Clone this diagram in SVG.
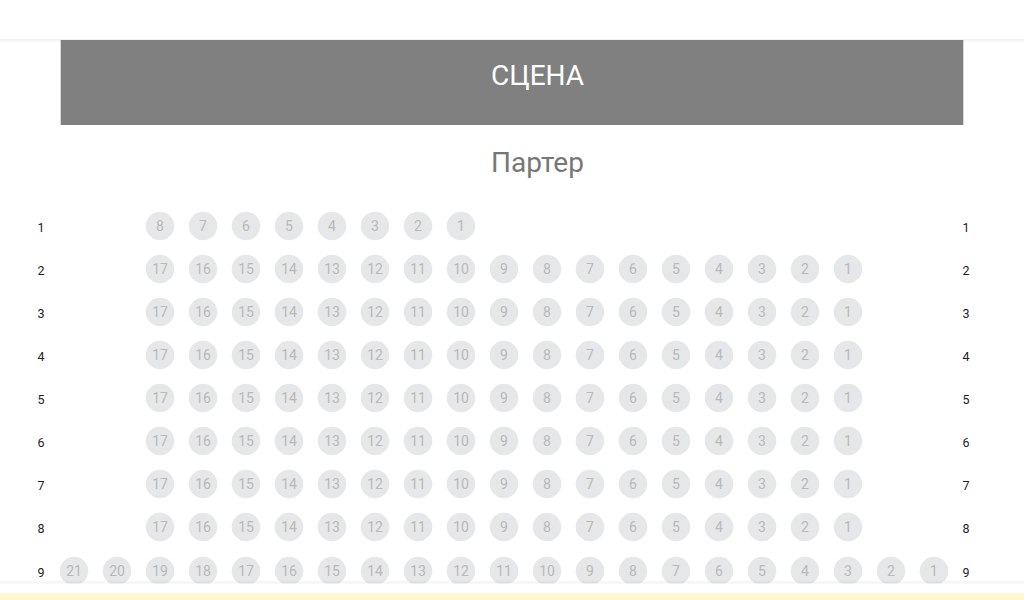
<svg xmlns="http://www.w3.org/2000/svg" width="1024" height="600" viewBox="0 0 1024 600">
<defs>
<style>
.seat circle{fill:#e6e7e8}
.seat text{font-family:Roboto,"Liberation Sans",sans-serif;font-size:14px;fill:#b9b9b9;text-anchor:middle;dominant-baseline:central}
.rl{font-family:Roboto,"Liberation Sans",sans-serif;font-size:12.5px;fill:#222;text-anchor:middle;dominant-baseline:central}
</style>
<linearGradient id="sh" x1="0" y1="0" x2="0" y2="1"><stop offset="0" stop-color="#000" stop-opacity="0.06"/><stop offset="1" stop-color="#000" stop-opacity="0"/></linearGradient>
<linearGradient id="sh2" x1="0" y1="1" x2="0" y2="0"><stop offset="0" stop-color="#000" stop-opacity="0.06"/><stop offset="1" stop-color="#000" stop-opacity="0"/></linearGradient>
</defs>
<rect width="1024" height="600" fill="#fff"/>
<g id="header"><rect x="0" y="0" width="1024" height="39" fill="#fff"/><rect x="0" y="39" width="1024" height="4" fill="url(#sh)"/></g>
<g id="stage"><rect x="60.7" y="40" width="902.6" height="85" fill="#808080"/><text x="537.5" y="84.5" font-family="Roboto,'Liberation Sans',sans-serif" font-size="28" fill="#fff" text-anchor="middle">СЦЕНА</text></g>
<g id="parter-title"><text x="537.5" y="171.5" font-family="Roboto,'Liberation Sans',sans-serif" font-size="28" fill="#777" text-anchor="middle">Партер</text></g>
<g id="row1">
<text class="rl" x="41" y="227">1</text><text class="rl" x="966" y="227">1</text>
<g class="seat"><circle cx="160" cy="226" r="14.3"/><text x="160" y="226">8</text></g>
<g class="seat"><circle cx="203" cy="226" r="14.3"/><text x="203" y="226">7</text></g>
<g class="seat"><circle cx="246" cy="226" r="14.3"/><text x="246" y="226">6</text></g>
<g class="seat"><circle cx="289" cy="226" r="14.3"/><text x="289" y="226">5</text></g>
<g class="seat"><circle cx="332" cy="226" r="14.3"/><text x="332" y="226">4</text></g>
<g class="seat"><circle cx="375" cy="226" r="14.3"/><text x="375" y="226">3</text></g>
<g class="seat"><circle cx="418" cy="226" r="14.3"/><text x="418" y="226">2</text></g>
<g class="seat"><circle cx="461" cy="226" r="14.3"/><text x="461" y="226">1</text></g>
</g>
<g id="row2">
<text class="rl" x="41" y="270">2</text><text class="rl" x="966" y="270">2</text>
<g class="seat"><circle cx="160" cy="269" r="14.3"/><text x="160" y="269">17</text></g>
<g class="seat"><circle cx="203" cy="269" r="14.3"/><text x="203" y="269">16</text></g>
<g class="seat"><circle cx="246" cy="269" r="14.3"/><text x="246" y="269">15</text></g>
<g class="seat"><circle cx="289" cy="269" r="14.3"/><text x="289" y="269">14</text></g>
<g class="seat"><circle cx="332" cy="269" r="14.3"/><text x="332" y="269">13</text></g>
<g class="seat"><circle cx="375" cy="269" r="14.3"/><text x="375" y="269">12</text></g>
<g class="seat"><circle cx="418" cy="269" r="14.3"/><text x="418" y="269">11</text></g>
<g class="seat"><circle cx="461" cy="269" r="14.3"/><text x="461" y="269">10</text></g>
<g class="seat"><circle cx="504" cy="269" r="14.3"/><text x="504" y="269">9</text></g>
<g class="seat"><circle cx="547" cy="269" r="14.3"/><text x="547" y="269">8</text></g>
<g class="seat"><circle cx="590" cy="269" r="14.3"/><text x="590" y="269">7</text></g>
<g class="seat"><circle cx="633" cy="269" r="14.3"/><text x="633" y="269">6</text></g>
<g class="seat"><circle cx="676" cy="269" r="14.3"/><text x="676" y="269">5</text></g>
<g class="seat"><circle cx="719" cy="269" r="14.3"/><text x="719" y="269">4</text></g>
<g class="seat"><circle cx="762" cy="269" r="14.3"/><text x="762" y="269">3</text></g>
<g class="seat"><circle cx="805" cy="269" r="14.3"/><text x="805" y="269">2</text></g>
<g class="seat"><circle cx="848" cy="269" r="14.3"/><text x="848" y="269">1</text></g>
</g>
<g id="row3">
<text class="rl" x="41" y="313">3</text><text class="rl" x="966" y="313">3</text>
<g class="seat"><circle cx="160" cy="312" r="14.3"/><text x="160" y="312">17</text></g>
<g class="seat"><circle cx="203" cy="312" r="14.3"/><text x="203" y="312">16</text></g>
<g class="seat"><circle cx="246" cy="312" r="14.3"/><text x="246" y="312">15</text></g>
<g class="seat"><circle cx="289" cy="312" r="14.3"/><text x="289" y="312">14</text></g>
<g class="seat"><circle cx="332" cy="312" r="14.3"/><text x="332" y="312">13</text></g>
<g class="seat"><circle cx="375" cy="312" r="14.3"/><text x="375" y="312">12</text></g>
<g class="seat"><circle cx="418" cy="312" r="14.3"/><text x="418" y="312">11</text></g>
<g class="seat"><circle cx="461" cy="312" r="14.3"/><text x="461" y="312">10</text></g>
<g class="seat"><circle cx="504" cy="312" r="14.3"/><text x="504" y="312">9</text></g>
<g class="seat"><circle cx="547" cy="312" r="14.3"/><text x="547" y="312">8</text></g>
<g class="seat"><circle cx="590" cy="312" r="14.3"/><text x="590" y="312">7</text></g>
<g class="seat"><circle cx="633" cy="312" r="14.3"/><text x="633" y="312">6</text></g>
<g class="seat"><circle cx="676" cy="312" r="14.3"/><text x="676" y="312">5</text></g>
<g class="seat"><circle cx="719" cy="312" r="14.3"/><text x="719" y="312">4</text></g>
<g class="seat"><circle cx="762" cy="312" r="14.3"/><text x="762" y="312">3</text></g>
<g class="seat"><circle cx="805" cy="312" r="14.3"/><text x="805" y="312">2</text></g>
<g class="seat"><circle cx="848" cy="312" r="14.3"/><text x="848" y="312">1</text></g>
</g>
<g id="row4">
<text class="rl" x="41" y="356">4</text><text class="rl" x="966" y="356">4</text>
<g class="seat"><circle cx="160" cy="355" r="14.3"/><text x="160" y="355">17</text></g>
<g class="seat"><circle cx="203" cy="355" r="14.3"/><text x="203" y="355">16</text></g>
<g class="seat"><circle cx="246" cy="355" r="14.3"/><text x="246" y="355">15</text></g>
<g class="seat"><circle cx="289" cy="355" r="14.3"/><text x="289" y="355">14</text></g>
<g class="seat"><circle cx="332" cy="355" r="14.3"/><text x="332" y="355">13</text></g>
<g class="seat"><circle cx="375" cy="355" r="14.3"/><text x="375" y="355">12</text></g>
<g class="seat"><circle cx="418" cy="355" r="14.3"/><text x="418" y="355">11</text></g>
<g class="seat"><circle cx="461" cy="355" r="14.3"/><text x="461" y="355">10</text></g>
<g class="seat"><circle cx="504" cy="355" r="14.3"/><text x="504" y="355">9</text></g>
<g class="seat"><circle cx="547" cy="355" r="14.3"/><text x="547" y="355">8</text></g>
<g class="seat"><circle cx="590" cy="355" r="14.3"/><text x="590" y="355">7</text></g>
<g class="seat"><circle cx="633" cy="355" r="14.3"/><text x="633" y="355">6</text></g>
<g class="seat"><circle cx="676" cy="355" r="14.3"/><text x="676" y="355">5</text></g>
<g class="seat"><circle cx="719" cy="355" r="14.3"/><text x="719" y="355">4</text></g>
<g class="seat"><circle cx="762" cy="355" r="14.3"/><text x="762" y="355">3</text></g>
<g class="seat"><circle cx="805" cy="355" r="14.3"/><text x="805" y="355">2</text></g>
<g class="seat"><circle cx="848" cy="355" r="14.3"/><text x="848" y="355">1</text></g>
</g>
<g id="row5">
<text class="rl" x="41" y="399">5</text><text class="rl" x="966" y="399">5</text>
<g class="seat"><circle cx="160" cy="398" r="14.3"/><text x="160" y="398">17</text></g>
<g class="seat"><circle cx="203" cy="398" r="14.3"/><text x="203" y="398">16</text></g>
<g class="seat"><circle cx="246" cy="398" r="14.3"/><text x="246" y="398">15</text></g>
<g class="seat"><circle cx="289" cy="398" r="14.3"/><text x="289" y="398">14</text></g>
<g class="seat"><circle cx="332" cy="398" r="14.3"/><text x="332" y="398">13</text></g>
<g class="seat"><circle cx="375" cy="398" r="14.3"/><text x="375" y="398">12</text></g>
<g class="seat"><circle cx="418" cy="398" r="14.3"/><text x="418" y="398">11</text></g>
<g class="seat"><circle cx="461" cy="398" r="14.3"/><text x="461" y="398">10</text></g>
<g class="seat"><circle cx="504" cy="398" r="14.3"/><text x="504" y="398">9</text></g>
<g class="seat"><circle cx="547" cy="398" r="14.3"/><text x="547" y="398">8</text></g>
<g class="seat"><circle cx="590" cy="398" r="14.3"/><text x="590" y="398">7</text></g>
<g class="seat"><circle cx="633" cy="398" r="14.3"/><text x="633" y="398">6</text></g>
<g class="seat"><circle cx="676" cy="398" r="14.3"/><text x="676" y="398">5</text></g>
<g class="seat"><circle cx="719" cy="398" r="14.3"/><text x="719" y="398">4</text></g>
<g class="seat"><circle cx="762" cy="398" r="14.3"/><text x="762" y="398">3</text></g>
<g class="seat"><circle cx="805" cy="398" r="14.3"/><text x="805" y="398">2</text></g>
<g class="seat"><circle cx="848" cy="398" r="14.3"/><text x="848" y="398">1</text></g>
</g>
<g id="row6">
<text class="rl" x="41" y="442">6</text><text class="rl" x="966" y="442">6</text>
<g class="seat"><circle cx="160" cy="441" r="14.3"/><text x="160" y="441">17</text></g>
<g class="seat"><circle cx="203" cy="441" r="14.3"/><text x="203" y="441">16</text></g>
<g class="seat"><circle cx="246" cy="441" r="14.3"/><text x="246" y="441">15</text></g>
<g class="seat"><circle cx="289" cy="441" r="14.3"/><text x="289" y="441">14</text></g>
<g class="seat"><circle cx="332" cy="441" r="14.3"/><text x="332" y="441">13</text></g>
<g class="seat"><circle cx="375" cy="441" r="14.3"/><text x="375" y="441">12</text></g>
<g class="seat"><circle cx="418" cy="441" r="14.3"/><text x="418" y="441">11</text></g>
<g class="seat"><circle cx="461" cy="441" r="14.3"/><text x="461" y="441">10</text></g>
<g class="seat"><circle cx="504" cy="441" r="14.3"/><text x="504" y="441">9</text></g>
<g class="seat"><circle cx="547" cy="441" r="14.3"/><text x="547" y="441">8</text></g>
<g class="seat"><circle cx="590" cy="441" r="14.3"/><text x="590" y="441">7</text></g>
<g class="seat"><circle cx="633" cy="441" r="14.3"/><text x="633" y="441">6</text></g>
<g class="seat"><circle cx="676" cy="441" r="14.3"/><text x="676" y="441">5</text></g>
<g class="seat"><circle cx="719" cy="441" r="14.3"/><text x="719" y="441">4</text></g>
<g class="seat"><circle cx="762" cy="441" r="14.3"/><text x="762" y="441">3</text></g>
<g class="seat"><circle cx="805" cy="441" r="14.3"/><text x="805" y="441">2</text></g>
<g class="seat"><circle cx="848" cy="441" r="14.3"/><text x="848" y="441">1</text></g>
</g>
<g id="row7">
<text class="rl" x="41" y="485">7</text><text class="rl" x="966" y="485">7</text>
<g class="seat"><circle cx="160" cy="484" r="14.3"/><text x="160" y="484">17</text></g>
<g class="seat"><circle cx="203" cy="484" r="14.3"/><text x="203" y="484">16</text></g>
<g class="seat"><circle cx="246" cy="484" r="14.3"/><text x="246" y="484">15</text></g>
<g class="seat"><circle cx="289" cy="484" r="14.3"/><text x="289" y="484">14</text></g>
<g class="seat"><circle cx="332" cy="484" r="14.3"/><text x="332" y="484">13</text></g>
<g class="seat"><circle cx="375" cy="484" r="14.3"/><text x="375" y="484">12</text></g>
<g class="seat"><circle cx="418" cy="484" r="14.3"/><text x="418" y="484">11</text></g>
<g class="seat"><circle cx="461" cy="484" r="14.3"/><text x="461" y="484">10</text></g>
<g class="seat"><circle cx="504" cy="484" r="14.3"/><text x="504" y="484">9</text></g>
<g class="seat"><circle cx="547" cy="484" r="14.3"/><text x="547" y="484">8</text></g>
<g class="seat"><circle cx="590" cy="484" r="14.3"/><text x="590" y="484">7</text></g>
<g class="seat"><circle cx="633" cy="484" r="14.3"/><text x="633" y="484">6</text></g>
<g class="seat"><circle cx="676" cy="484" r="14.3"/><text x="676" y="484">5</text></g>
<g class="seat"><circle cx="719" cy="484" r="14.3"/><text x="719" y="484">4</text></g>
<g class="seat"><circle cx="762" cy="484" r="14.3"/><text x="762" y="484">3</text></g>
<g class="seat"><circle cx="805" cy="484" r="14.3"/><text x="805" y="484">2</text></g>
<g class="seat"><circle cx="848" cy="484" r="14.3"/><text x="848" y="484">1</text></g>
</g>
<g id="row8">
<text class="rl" x="41" y="528">8</text><text class="rl" x="966" y="528">8</text>
<g class="seat"><circle cx="160" cy="527" r="14.3"/><text x="160" y="527">17</text></g>
<g class="seat"><circle cx="203" cy="527" r="14.3"/><text x="203" y="527">16</text></g>
<g class="seat"><circle cx="246" cy="527" r="14.3"/><text x="246" y="527">15</text></g>
<g class="seat"><circle cx="289" cy="527" r="14.3"/><text x="289" y="527">14</text></g>
<g class="seat"><circle cx="332" cy="527" r="14.3"/><text x="332" y="527">13</text></g>
<g class="seat"><circle cx="375" cy="527" r="14.3"/><text x="375" y="527">12</text></g>
<g class="seat"><circle cx="418" cy="527" r="14.3"/><text x="418" y="527">11</text></g>
<g class="seat"><circle cx="461" cy="527" r="14.3"/><text x="461" y="527">10</text></g>
<g class="seat"><circle cx="504" cy="527" r="14.3"/><text x="504" y="527">9</text></g>
<g class="seat"><circle cx="547" cy="527" r="14.3"/><text x="547" y="527">8</text></g>
<g class="seat"><circle cx="590" cy="527" r="14.3"/><text x="590" y="527">7</text></g>
<g class="seat"><circle cx="633" cy="527" r="14.3"/><text x="633" y="527">6</text></g>
<g class="seat"><circle cx="676" cy="527" r="14.3"/><text x="676" y="527">5</text></g>
<g class="seat"><circle cx="719" cy="527" r="14.3"/><text x="719" y="527">4</text></g>
<g class="seat"><circle cx="762" cy="527" r="14.3"/><text x="762" y="527">3</text></g>
<g class="seat"><circle cx="805" cy="527" r="14.3"/><text x="805" y="527">2</text></g>
<g class="seat"><circle cx="848" cy="527" r="14.3"/><text x="848" y="527">1</text></g>
</g>
<g id="row9">
<text class="rl" x="41" y="572">9</text><text class="rl" x="966" y="572">9</text>
<g class="seat"><circle cx="74" cy="571" r="14.3"/><text x="74" y="571">21</text></g>
<g class="seat"><circle cx="117" cy="571" r="14.3"/><text x="117" y="571">20</text></g>
<g class="seat"><circle cx="160" cy="571" r="14.3"/><text x="160" y="571">19</text></g>
<g class="seat"><circle cx="203" cy="571" r="14.3"/><text x="203" y="571">18</text></g>
<g class="seat"><circle cx="246" cy="571" r="14.3"/><text x="246" y="571">17</text></g>
<g class="seat"><circle cx="289" cy="571" r="14.3"/><text x="289" y="571">16</text></g>
<g class="seat"><circle cx="332" cy="571" r="14.3"/><text x="332" y="571">15</text></g>
<g class="seat"><circle cx="375" cy="571" r="14.3"/><text x="375" y="571">14</text></g>
<g class="seat"><circle cx="418" cy="571" r="14.3"/><text x="418" y="571">13</text></g>
<g class="seat"><circle cx="461" cy="571" r="14.3"/><text x="461" y="571">12</text></g>
<g class="seat"><circle cx="504" cy="571" r="14.3"/><text x="504" y="571">11</text></g>
<g class="seat"><circle cx="547" cy="571" r="14.3"/><text x="547" y="571">10</text></g>
<g class="seat"><circle cx="590" cy="571" r="14.3"/><text x="590" y="571">9</text></g>
<g class="seat"><circle cx="633" cy="571" r="14.3"/><text x="633" y="571">8</text></g>
<g class="seat"><circle cx="676" cy="571" r="14.3"/><text x="676" y="571">7</text></g>
<g class="seat"><circle cx="719" cy="571" r="14.3"/><text x="719" y="571">6</text></g>
<g class="seat"><circle cx="762" cy="571" r="14.3"/><text x="762" y="571">5</text></g>
<g class="seat"><circle cx="805" cy="571" r="14.3"/><text x="805" y="571">4</text></g>
<g class="seat"><circle cx="848" cy="571" r="14.3"/><text x="848" y="571">3</text></g>
<g class="seat"><circle cx="891" cy="571" r="14.3"/><text x="891" y="571">2</text></g>
<g class="seat"><circle cx="934" cy="571" r="14.3"/><text x="934" y="571">1</text></g>
</g>
<g id="footer"><rect x="0" y="580" width="1024" height="4" fill="url(#sh2)"/><rect x="0" y="583.5" width="1024" height="16.5" fill="#fff"/><rect x="0" y="593" width="1024" height="7" fill="#fff8cf"/></g>
</svg>
